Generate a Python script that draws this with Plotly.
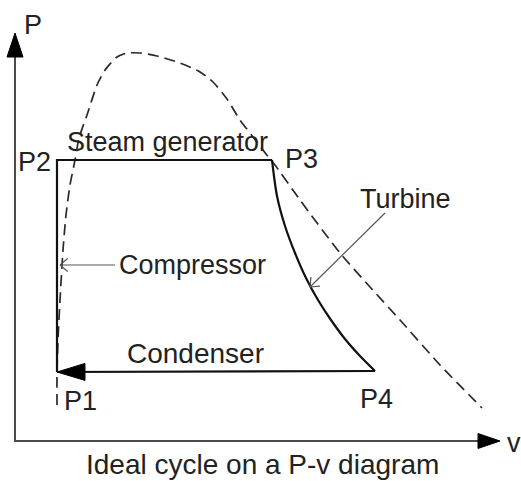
import math
import plotly.graph_objects as go

# ---------------- data (schematic units: v, P) ----------------
state_labels = ["P1", "P2", "P3", "P4"]
state_v = [4.2, 4.2, 25.7, 36.0]
state_P = [6.9, 28.1, 28.1, 7.0]

# isentropic expansion in the turbine (P3 -> P4)
turbine_v = [25.7, 26.2, 27.0, 28.0, 29.1, 30.3, 31.6, 33.0, 34.5, 36.0]
turbine_P = [28.1, 24.5, 21.5, 18.8, 16.3, 14.1, 12.1, 10.2, 8.5, 7.0]

# saturation dome (dashed)
dome_v = [4.2, 4.2, 4.3, 4.5, 4.8, 5.1, 5.5, 6.0, 6.4, 7.2, 8.2, 9.0, 10.2, 11.2,
          12.5, 14.2, 16.5, 18.5, 19.8, 21.2, 22.5, 23.8, 25.1, 26.0, 28.5, 32.5,
          35.5, 38.5, 42.5, 46.7]
dome_P = [3.6, 6.9, 10.1, 14.1, 19.1, 22.6, 25.6, 28.1, 30.3, 32.6, 35.6, 37.1, 38.4,
          38.8, 38.8, 38.5, 37.8, 36.9, 35.9, 34.2, 32.1, 30.4, 28.7, 27.6, 24.1,
          18.8, 15.4, 12.1, 7.6, 3.3]

# axis extents
axis_v_end = 48.5
axis_P_end = 40.8

# process labels and their pointer arrows (tail -> head)
compressor_ptr_v = [10.0, 4.5]
compressor_ptr_P = [17.6, 17.6]
turbine_ptr_v = [37.0, 29.5]
turbine_ptr_P = [22.8, 15.4]

# ---------------- figure geometry ----------------
W, H = 521, 481
X_RANGE = [-1.5, 50.6]
Y_RANGE = [-4.0, 44.1]
PXX = (X_RANGE[1] - X_RANGE[0]) / W   # data units per pixel
PXY = (Y_RANGE[1] - Y_RANGE[0]) / H

FONT = "Liberation Sans, Arial, sans-serif"
TXT = "#222222"
FS = 27


def filled_head(tip_v, tip_P, from_v, from_P, length_px, half_px):
    dx = (tip_v - from_v) / PXX
    dy = (tip_P - from_P) / PXY
    n = math.hypot(dx, dy)
    ux, uy = dx / n, dy / n
    bx, by = -ux * length_px, -uy * length_px
    px_, py_ = -uy * half_px, ux * half_px
    xs = [tip_v, tip_v + (bx + px_) * PXX, tip_v + (bx - px_) * PXX, tip_v]
    ys = [tip_P, tip_P + (by + py_) * PXY, tip_P + (by - py_) * PXY, tip_P]
    return xs, ys


def open_head(tip_v, tip_P, from_v, from_P, arm_px, ang_deg):
    dx = (tip_v - from_v) / PXX
    dy = (tip_P - from_P) / PXY
    n = math.hypot(dx, dy)
    ux, uy = dx / n, dy / n
    a = math.radians(ang_deg)
    xs, ys = [], []
    for s in (1, -1):
        c, si = math.cos(s * a), math.sin(s * a)
        rx = -(ux * c - uy * si)
        ry = -(ux * si + uy * c)
        xs += [tip_v + rx * arm_px * PXX, tip_v, None]
        ys += [tip_P + ry * arm_px * PXY, tip_P, None]
    return xs, ys


fig = go.Figure()

# axes
AX = "#4a4a4a"
fig.add_trace(go.Scatter(x=[0, 0, axis_v_end - 2.0], y=[axis_P_end - 2.0, 0, 0],
                         mode="lines", line=dict(color=AX, width=2), hoverinfo="skip"))
hx, hy = filled_head(0, axis_P_end, 0, 0, 24, 8)
fig.add_trace(go.Scatter(x=hx, y=hy, mode="lines", fill="toself", fillcolor="#000",
                         line=dict(color="#000", width=1), hoverinfo="skip"))
hx, hy = filled_head(axis_v_end, 0, 0, 0, 22, 7.5)
fig.add_trace(go.Scatter(x=hx, y=hy, mode="lines", fill="toself", fillcolor="#000",
                         line=dict(color="#000", width=1), hoverinfo="skip"))

# saturation dome
fig.add_trace(go.Scatter(x=dome_v, y=dome_P, mode="lines",
                         line=dict(color="#2a2a2a", width=1.7, dash="11px,6px",
                                   shape="spline", smoothing=0.6),
                         hoverinfo="skip"))

# cycle: P1 -> P2 -> P3 (compressor + steam generator)
fig.add_trace(go.Scatter(x=[state_v[0], state_v[1], state_v[2]],
                         y=[state_P[0], state_P[1], state_P[2]],
                         mode="lines", line=dict(color="#111", width=2.2),
                         hoverinfo="skip"))
# turbine
fig.add_trace(go.Scatter(x=turbine_v, y=turbine_P, mode="lines",
                         line=dict(color="#111", width=2.2, shape="spline", smoothing=0.8),
                         hoverinfo="skip"))
# condenser P4 -> P1
fig.add_trace(go.Scatter(x=[state_v[3], state_v[0]], y=[state_P[3], state_P[0]],
                         mode="lines", line=dict(color="#111", width=2.2),
                         hoverinfo="skip"))
hx, hy = filled_head(state_v[0], state_P[0], state_v[3], state_P[3], 28, 8.5)
fig.add_trace(go.Scatter(x=hx, y=hy, mode="lines", fill="toself", fillcolor="#000",
                         line=dict(color="#000", width=1), hoverinfo="skip"))

# pointer arrows
PTR = "#555555"
for pv, pp in ((compressor_ptr_v, compressor_ptr_P), (turbine_ptr_v, turbine_ptr_P)):
    fig.add_trace(go.Scatter(x=pv, y=pp, mode="lines", line=dict(color=PTR, width=1.2),
                             hoverinfo="skip"))
    ox, oy = open_head(pv[1], pp[1], pv[0], pp[0], 10, 40)
    fig.add_trace(go.Scatter(x=ox, y=oy, mode="lines", line=dict(color=PTR, width=1.2),
                             hoverinfo="skip"))


def label(text, v, P, xanchor="left", size=FS):
    fig.add_annotation(x=v, y=P, xref="x", yref="y", text=text, showarrow=False,
                       xanchor=xanchor, yanchor="middle",
                       font=dict(family=FONT, size=size, color=TXT))


label("P", 0.7, 41.6)
label("v", 49.0, -0.2)
label("P2", 3.8, 27.9, "right")
label("P3", 26.8, 28.2)
label("P1", 4.7, 4.0)
label("P4", 34.3, 4.2)
label("Steam generator", 5.0, 29.9)
label("Turbine", 34.3, 24.2)
label("Compressor", 10.2, 17.6)
label("Condenser", 11.0, 8.8, size=28)
label("Ideal cycle on a P-v diagram", 24.7, -2.3, "center", size=28)

fig.update_layout(
    width=W, height=H, margin=dict(l=0, r=0, t=0, b=0),
    paper_bgcolor="white", plot_bgcolor="white", showlegend=False,
    xaxis=dict(range=X_RANGE, visible=False, fixedrange=True),
    yaxis=dict(range=Y_RANGE, visible=False, fixedrange=True),
)

fig.write_html("out.html", config={"displayModeBar": False},
               post_script="document.body.style.margin='0';document.body.style.overflow='hidden';")
